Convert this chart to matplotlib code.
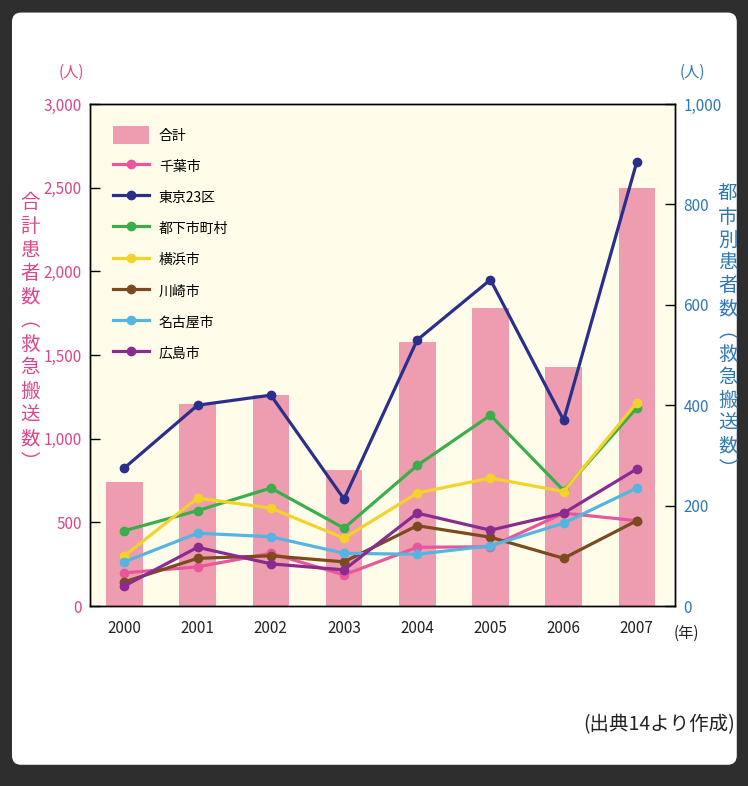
import matplotlib
matplotlib.use("Agg")
import matplotlib.pyplot as plt
from matplotlib.patches import FancyBboxPatch, Patch
from matplotlib.lines import Line2D

plt.rcParams["font.family"] = ["Noto Sans CJK JP", "DejaVu Sans"]

years = ["2000", "2001", "2002", "2003", "2004", "2005", "2006", "2007"]
total = [740, 1210, 1260, 810, 1580, 1780, 1430, 2500]

city_names = ["千葉市", "東京23区", "都下市町村", "横浜市", "川崎市", "名古屋市", "広島市"]
chiba = [66, 78, 105, 62, 117, 118, 185, 170]
tokyo23 = [275, 400, 420, 213, 530, 650, 370, 885]
tokyo_other = [150, 190, 235, 155, 280, 380, 230, 395]
yokohama = [100, 215, 195, 135, 225, 255, 228, 405]
kawasaki = [48, 95, 100, 88, 160, 137, 95, 170]
nagoya = [88, 145, 138, 105, 103, 120, 165, 235]
hiroshima = [40, 117, 84, 72, 185, 151, 185, 273]
city_series = [chiba, tokyo23, tokyo_other, yokohama, kawasaki, nagoya, hiroshima]
city_colors = ["#E8579C", "#2B2F8C", "#3AAE4A", "#F3D22A", "#7B4A1F", "#55B4E2", "#8A2B90"]

left_ticks = [0, 500, 1000, 1500, 2000, 2500, 3000]
right_ticks = [0, 200, 400, 600, 800, 1000]

PINK_TXT = "#D8478A"
BLUE_TXT = "#2E78B4"

fig = plt.figure(figsize=(7.48, 7.86), dpi=100, facecolor="#2e2e2e")
# white card behind everything
fig.patches.append(FancyBboxPatch((0.016, 0.027), 0.969, 0.957,
                                  boxstyle="round,pad=0,rounding_size=0.012",
                                  transform=fig.transFigure, facecolor="white",
                                  edgecolor="none", zorder=-10))

ax = fig.add_axes([0.1203, 0.229, 0.782, 0.6387])
ax.set_facecolor("#FFFDEA")
x = list(range(len(years)))
ax.bar(x, total, width=0.5, color="#EE9DB0", zorder=2)
ax.set_xlim(-0.47, 7.52)
ax.set_ylim(0, 3000)
ax.set_yticks(left_ticks)
ax.set_yticklabels([f"{v:,}" for v in left_ticks])
ax.set_xticks(x)
ax.set_xticklabels(years)
ax.tick_params(axis="y", direction="in", length=7, width=1, colors="black",
               labelcolor=PINK_TXT, labelsize=11, pad=6)
ax.tick_params(axis="x", length=0, labelsize=11, pad=10, labelcolor="#222222")

ax2 = ax.twinx()
ax2.set_ylim(0, 1000)
ax2.set_yticks(right_ticks)
ax2.set_yticklabels([f"{v:,}" for v in right_ticks])
ax2.tick_params(axis="y", direction="in", length=7, width=1, colors="black",
                labelcolor=BLUE_TXT, labelsize=11, pad=6)
for a in (ax, ax2):
    for s in a.spines.values():
        s.set_linewidth(1.0)

for name, vals, col in zip(city_names, city_series, city_colors):
    ax2.plot(x, vals, color=col, lw=2.3, marker="o", ms=6, label=name, zorder=3)

handles = [Patch(facecolor="#EE9DB0", edgecolor="none", label="合計")]
handles += [Line2D([], [], color=c, lw=2.3, marker="o", ms=6, label=n)
            for n, c in zip(city_names, city_colors)]
ax2.legend(handles=handles, loc="upper left", bbox_to_anchor=(0.03, 0.967),
           frameon=False, fontsize=10, handlelength=2.6, handleheight=1.6,
           handletextpad=0.7, labelspacing=0.96, borderaxespad=0)

ax.text(7.5, -0.037, "(年)", transform=ax.get_xaxis_transform(),
        ha="left", va="top", fontsize=11, color="#222222")

fig.text(0.096, 0.908, "(人)", ha="center", va="center", fontsize=11, color=PINK_TXT)
fig.text(0.925, 0.908, "(人)", ha="center", va="center", fontsize=11, color=BLUE_TXT)

left_label = "合計患者数︵救急搬送数︶"
right_label = "都市別患者数︵救急搬送数︶"
fig.text(0.040, 0.577, "\n".join(left_label), ha="center", va="center",
         fontsize=14, color=PINK_TXT, linespacing=1.16)
fig.text(0.973, 0.578, "\n".join(right_label), ha="center", va="center",
         fontsize=14, color=BLUE_TXT, linespacing=1.12)

fig.text(0.983, 0.078, "(出典14より作成)", ha="right", va="center",
         fontsize=14, color="#222222")

fig.savefig("out.png", dpi=100, facecolor=fig.get_facecolor())
